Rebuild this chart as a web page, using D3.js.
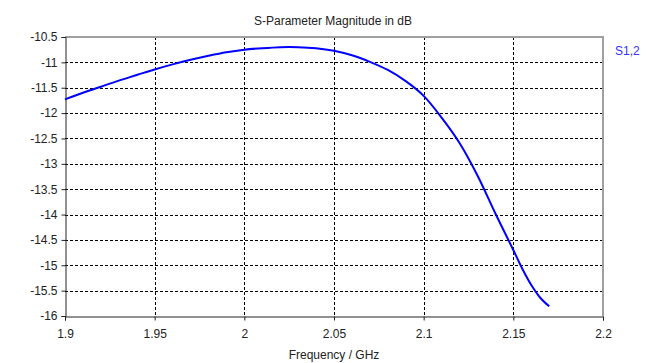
<!DOCTYPE html>
<html>
<head>
<meta charset="utf-8">
<script src="https://cdn.jsdelivr.net/npm/d3@7"></script>
<style>
  body { margin: 0; background: #fff; }
  svg { display: block; font-family: "Liberation Sans", Arial, sans-serif; }
</style>
</head>
<body>
<svg id="chart" width="667" height="363"></svg>
<script>
// frequency (GHz) and |S1,2| (dB)
const freq = [1.90, 1.91, 1.92, 1.93, 1.94, 1.95, 1.96, 1.97, 1.98, 1.99,
  2.00, 2.01, 2.02, 2.03, 2.04, 2.05, 2.06, 2.07, 2.08, 2.09,
  2.10, 2.11, 2.12, 2.13, 2.14, 2.15, 2.155, 2.16, 2.165, 2.17];
const s12 = [-11.73, -11.60, -11.48, -11.36, -11.25, -11.14, -11.04, -10.95, -10.87, -10.80,
  -10.75, -10.72, -10.70, -10.70, -10.72, -10.77, -10.86, -10.99, -11.15, -11.37,
  -11.66, -12.09, -12.59, -13.23, -13.98, -14.70, -15.07, -15.39, -15.64, -15.81];

const xTicks = [1.9, 1.95, 2, 2.05, 2.1, 2.15, 2.2];
const yTicks = [-10.5, -11, -11.5, -12, -12.5, -13, -13.5, -14, -14.5, -15, -15.5, -16];

const title = "S-Parameter Magnitude in dB";
const xTitle = "Frequency / GHz";
const seriesName = "S1,2";

const plotL = 65, plotR = 603, plotT = 37, plotB = 316;

const svg = d3.select("#chart");
const x = d3.scaleLinear().domain([1.9, 2.2]).range([plotL, plotR]);
const y = d3.scaleLinear().domain([-16, -10.5]).range([plotB, plotT]);

// grid
const grid = svg.append("g")
  .attr("stroke", "#000")
  .attr("stroke-width", 1)
  .attr("stroke-dasharray", "3,2");
grid.selectAll("line.h")
  .data(yTicks.filter(d => d !== -16 && d !== -10.5))
  .join("line")
  .attr("class", "h")
  .attr("x1", plotL).attr("x2", plotR)
  .attr("y1", d => Math.round(y(d)) + 0.5)
  .attr("y2", d => Math.round(y(d)) + 0.5);
grid.selectAll("line.v")
  .data(xTicks.filter(d => d !== 1.9 && d !== 2.2))
  .join("line")
  .attr("class", "v")
  .attr("y1", plotT).attr("y2", plotB)
  .attr("x1", d => Math.round(x(d)) + 0.5)
  .attr("x2", d => Math.round(x(d)) + 0.5);

// frame: gray top / right
svg.append("path")
  .attr("d", `M${plotL},${plotT} H${plotR} V${plotB}`)
  .attr("fill", "none")
  .attr("stroke", "#a0a0a0")
  .attr("stroke-width", 2);

// axes
const yAxis = svg.append("g")
  .attr("transform", `translate(${plotL + 0.5},0)`)
  .call(d3.axisLeft(y).tickValues(yTicks).tickSize(4).tickPadding(4)
    .tickFormat(d => String(d)));
const xAxis = svg.append("g")
  .attr("transform", `translate(0,${plotB + 0.5})`)
  .call(d3.axisBottom(x).tickValues(xTicks).tickSize(4).tickPadding(9)
    .tickFormat(d => String(d)));

[yAxis, xAxis].forEach(g => {
  g.select(".domain").attr("stroke", "#222");
  g.selectAll(".tick line").attr("stroke", "#222");
  g.selectAll("text")
    .attr("font-size", 12)
    .attr("fill", "#222")
    .attr("font-family", "Liberation Sans, Arial, sans-serif");
});

// curve
const line = d3.line()
  .x((d, i) => x(freq[i]))
  .y(d => y(d))
  .curve(d3.curveCatmullRom);
svg.append("path")
  .datum(s12)
  .attr("fill", "none")
  .attr("stroke", "#0000ff")
  .attr("stroke-width", 2)
  .attr("d", line);

// texts
svg.append("text")
  .attr("x", 333).attr("y", 25)
  .attr("text-anchor", "middle")
  .attr("font-size", 12)
  .attr("fill", "#222")
  .text(title);

svg.append("text")
  .attr("x", 334).attr("y", 359)
  .attr("text-anchor", "middle")
  .attr("font-size", 12)
  .attr("fill", "#222")
  .text(xTitle);

svg.append("text")
  .attr("x", 615).attr("y", 55)
  .attr("font-size", 12)
  .attr("fill", "#3333ff")
  .text(seriesName);
</script>
</body>
</html>
